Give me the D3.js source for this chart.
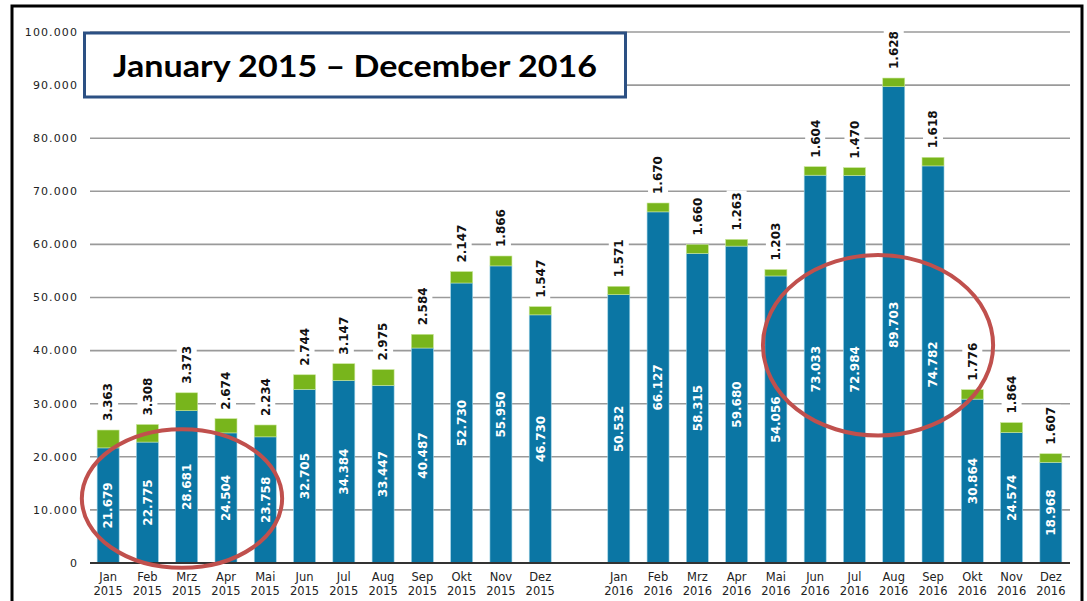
<!DOCTYPE html>
<html>
<head>
<meta charset="utf-8">
<script src="https://cdn.jsdelivr.net/npm/d3@7"></script>
<style>
  body { margin: 0; background: #fff; }
  svg { display: block; }
</style>
</head>
<body>
<svg id="chart"></svg>
<script>
// Monthly values, blue = lower segment, green = upper segment
const months = ['Jan', 'Feb', 'Mrz', 'Apr', 'Mai', 'Jun', 'Jul', 'Aug', 'Sep', 'Okt', 'Nov', 'Dez'];
const years = ['2015', '2016'];
const blue2015 = [21679, 22775, 28681, 24504, 23758, 32705, 34384, 33447, 40487, 52730, 55950, 46730];
const green2015 = [3363, 3308, 3373, 2674, 2234, 2744, 3147, 2975, 2584, 2147, 1866, 1547];
const blue2016 = [50532, 66127, 58315, 59680, 54056, 73033, 72984, 89703, 74782, 30864, 24574, 18968];
const green2016 = [1571, 1670, 1660, 1263, 1203, 1604, 1470, 1628, 1618, 1776, 1864, 1607];
const yTicks = [0, 10000, 20000, 30000, 40000, 50000, 60000, 70000, 80000, 90000, 100000];
const title = 'January 2015 – December 2016';

const width = 1087, height = 601;
const blueColor = '#0b76a4', greenColor = '#78b51c';

// rows for the bars
const data = [];
months.forEach((m, i) => data.push({ key: m + ' ' + years[0], month: m, year: years[0], blue: blue2015[i], green: green2015[i] }));
months.forEach((m, i) => data.push({ key: m + ' ' + years[1], month: m, year: years[1], blue: blue2016[i], green: green2016[i] }));

// empty slot between the two years
const domain = data.slice(0, 12).map(d => d.key).concat(['gap']).concat(data.slice(12).map(d => d.key));

const de = d3.formatLocale({ decimal: ',', thousands: '.', grouping: [3], currency: ['', '€'] });
const fmt = de.format(',d');

const svg = d3.select('#chart')
  .attr('width', width)
  .attr('height', height);

const xScale = d3.scaleBand()
  .domain(domain)
  .range([88.5, 1070.5])
  .paddingInner(0.44)
  .paddingOuter(0.22);

const yScale = d3.scaleLinear()
  .domain([0, 100000])
  .range([563, 32]);

const cx = k => xScale(k) + xScale.bandwidth() / 2;

// gridlines
svg.append('g')
  .selectAll('line')
  .data(yTicks.filter(d => d > 0))
  .join('line')
  .attr('x1', 90)
  .attr('x2', 1070)
  .attr('y1', d => yScale(d))
  .attr('y2', d => yScale(d))
  .attr('stroke', '#9a9a9a')
  .attr('stroke-width', 1.6);

// y axis labels
svg.append('g')
  .selectAll('text')
  .data(yTicks)
  .join('text')
  .attr('x', 78)
  .attr('y', d => yScale(d))
  .attr('dy', '0.35em')
  .attr('text-anchor', 'end')
  .style('font-family', 'DejaVu Sans, sans-serif')
  .style('font-size', '11px')
  .style('letter-spacing', '1.1px')
  .attr('fill', '#222')
  .text(d => fmt(d));

// bars
const bars = svg.append('g')
  .selectAll('g')
  .data(data)
  .join('g');

bars.append('rect')
  .attr('x', d => xScale(d.key))
  .attr('width', xScale.bandwidth())
  .attr('y', d => yScale(d.blue))
  .attr('height', d => yScale(0) - yScale(d.blue))
  .attr('fill', blueColor)
  .attr('stroke', '#9fd3e6')
  .attr('stroke-width', 0.6);

bars.append('rect')
  .attr('x', d => xScale(d.key))
  .attr('width', xScale.bandwidth())
  .attr('y', d => yScale(d.blue + d.green))
  .attr('height', d => yScale(d.blue) - yScale(d.blue + d.green))
  .attr('fill', greenColor)
  .attr('stroke', '#c9e79a')
  .attr('stroke-width', 0.6);

// white values inside the blue segment
bars.append('text')
  .attr('transform', d => `translate(${cx(d.key)},${(yScale(d.blue) + yScale(0)) / 2}) rotate(-90)`)
  .attr('text-anchor', 'middle')
  .attr('dy', '0.36em')
  .style('font-family', 'DejaVu Sans, sans-serif')
  .style('font-size', '12px')
  .style('font-weight', 'bold')
  .attr('fill', '#fff')
  .text(d => fmt(d.blue));

// black values above the bar, on a white patch
const topLabels = bars.append('g')
  .attr('transform', d => `translate(${cx(d.key)},${yScale(d.blue + d.green) - 9}) rotate(-90)`);

topLabels.append('rect')
  .attr('x', -4)
  .attr('y', -10)
  .attr('width', d => fmt(d.green).length * 7.6 + 6)
  .attr('height', 20)
  .attr('fill', '#fff');

topLabels.append('text')
  .attr('dy', '0.36em')
  .style('font-family', 'DejaVu Sans, sans-serif')
  .style('font-size', '12px')
  .style('font-weight', 'bold')
  .attr('fill', '#111')
  .text(d => fmt(d.green));

// x axis baseline
svg.append('line')
  .attr('x1', 90)
  .attr('x2', 1070)
  .attr('y1', yScale(0))
  .attr('y2', yScale(0))
  .attr('stroke', '#333')
  .attr('stroke-width', 2);

// x labels, two lines
const xLabels = svg.append('g')
  .selectAll('text')
  .data(data)
  .join('text')
  .attr('x', d => cx(d.key))
  .attr('y', 581)
  .attr('text-anchor', 'middle')
  .style('font-family', 'DejaVu Sans, sans-serif')
  .style('font-size', '11.5px')
  .attr('fill', '#222');

xLabels.append('tspan')
  .attr('x', d => cx(d.key))
  .text(d => d.month);

xLabels.append('tspan')
  .attr('x', d => cx(d.key))
  .attr('dy', 14)
  .text(d => d.year);

// red ellipses (annotations)
const step = xScale.step();
const rings = [
  { at: 'Mrz 2015', shift: -0.12, rx: 2.55, top: 25200, bottom: -900 },
  { at: 'Aug 2016', shift: -0.4, rx: 2.93, top: 58000, bottom: 24000 }
];

svg.append('g')
  .selectAll('ellipse')
  .data(rings)
  .join('ellipse')
  .attr('cx', d => cx(d.at) + d.shift * step)
  .attr('cy', d => (yScale(d.top) + yScale(d.bottom)) / 2)
  .attr('rx', d => d.rx * step)
  .attr('ry', d => (yScale(d.bottom) - yScale(d.top)) / 2)
  .attr('fill', 'none')
  .attr('stroke', '#c0504d')
  .attr('stroke-width', 4);

// title box
const box = svg.append('g');
box.append('rect')
  .attr('x', 84.5)
  .attr('y', 33)
  .attr('width', 541)
  .attr('height', 64)
  .attr('fill', '#fff')
  .attr('stroke', '#2c5083')
  .attr('stroke-width', 3);

box.append('text')
  .attr('x', 113)
  .attr('y', 77)
  .attr('textLength', 484)
  .attr('lengthAdjust', 'spacingAndGlyphs')
  .style('font-family', 'Lato, sans-serif')
  .style('font-size', '31px')
  .style('font-weight', 'bold')
  .attr('fill', '#000')
  .text(title);

// outer frame
svg.append('rect')
  .attr('x', 12)
  .attr('y', 6)
  .attr('width', 1070)
  .attr('height', 610)
  .attr('fill', 'none')
  .attr('stroke', '#000')
  .attr('stroke-width', 3);
</script>
</body>
</html>
